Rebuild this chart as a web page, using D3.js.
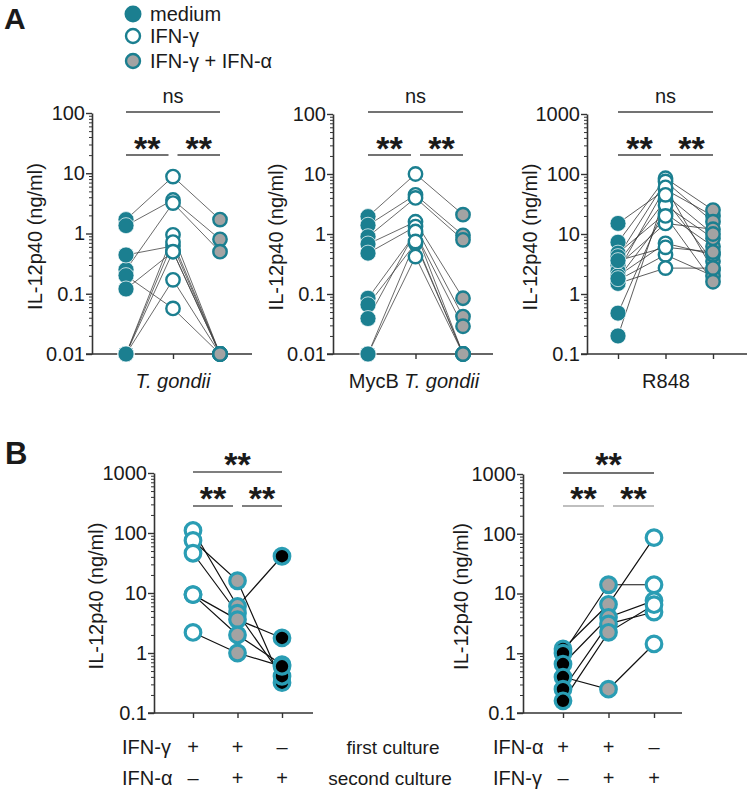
<!DOCTYPE html>
<html><head><meta charset="utf-8">
<script src="https://cdn.jsdelivr.net/npm/d3@7"></script>
<style>
body{margin:0;background:#fff;}
text{font-family:"Liberation Sans",Arial,sans-serif;fill:#1a1a1a;}
</style></head>
<body><svg id="c" width="750" height="794"></svg>
<script>
// ---------- DATA ----------
const groupsA = ["medium", "IFN-γ", "IFN-γ + IFN-α"];
const groupsBLeft = ["IFN-γ→–", "IFN-γ→IFN-α", "–→IFN-α"];
const groupsBRight = ["IFN-α→–", "IFN-α→IFN-γ", "–→IFN-γ"];

const yTicksA12 = [0.01, 0.1, 1, 10, 100];
const yLabelsA12 = ["0.01", "0.1", "1", "10", "100"];
const yTicks3 = [0.1, 1, 10, 100, 1000];
const yLabels3 = ["0.1", "1", "10", "100", "1000"];

// T. gondii (per donor)
const tgMedium = [1.7, 1.35, 0.25, 0.44, 0.2, 0.12, 0.01, 0.01, 0.01, 0.01];
const tgIFNg   = [8.8, 3.6, 3.2, 0.62, 0.057, 0.5, 0.95, 0.72, 0.17, 0.5];
const tgIFNga  = [1.7, 0.8, 0.5, 0.01, 0.01, 0.01, 0.01, 0.01, 0.01, 0.01];

// MycB T. gondii
const mycMedium = [1.95, 1.4, 0.9, 0.68, 0.48, 0.085, 0.066, 0.039, 0.01, 0.01];
const mycIFNg   = [10, 4.5, 4.0, 1.6, 1.33, 1.03, 0.7, 1.1, 0.42, 0.75];
const mycIFNga  = [2.1, 0.95, 0.8, 0.085, 0.042, 0.029, 0.01, 0.01, 0.01, 0.01];

// R848
const rMedium = [15, 7.3, 4.8, 4.2, 3.3, 3.0, 2.4, 2.0, 1.7, 1.5, 0.48, 0.2, 3.6, 1.8];
const rIFNg   = [55, 85, 22, 75, 37, 15, 60, 7, 4.5, 2.7, 30, 45, 6, 20];
const rIFNga  = [20, 25, 6.2, 16, 3.5, 12, 2.5, 4.5, 2.0, 2.7, 8.5, 10, 5, 1.6];

// Panel B left: first culture IFN-γ / second IFN-α
const bLeftG  = [110, 75, 46, 9.4, 9.4, 2.2];
const bLeftGA = [6, 16, 4.6, 3.6, 2.0, 1.0];
const bLeftA  = [41, 0.32, 0.41, 1.78, 0.64, 0.6];

// Panel B right: first culture IFN-α / second IFN-γ
const bRightA  = [1.18, 1.0, 0.66, 0.4, 0.25, 0.16];
const bRightAG = [6.6, 14, 4, 0.25, 3.1, 2.24];
const bRightG  = [86, 14, 7.6, 1.43, 4.9, 6.5];

const rowLeft1 = ["+", "+", "–"];
const rowLeft2 = ["–", "+", "+"];
const rowRight1 = ["+", "+", "–"];
const rowRight2 = ["–", "+", "+"];

// ---------- STYLE ----------
const tealA = "#1b7f90";
const tealB = "#2a9db4";
const grey = "#a3a3a3";
const FS = 20;

const svg = d3.select("#c");

function minorTicks(majors) {
  const out = [];
  for (let i = 0; i < majors.length - 1; i++)
    for (let k = 2; k <= 9; k++) out.push(+(majors[i] * k).toPrecision(3));
  return out;
}

function panel(o) {
  const g = svg.append("g");
  const y = d3.scaleLog().domain([o.ticks[0], o.ticks[o.ticks.length - 1]]).range([o.yBottom, o.yTop]);
  const x = d3.scalePoint().domain(o.groups).range([o.x0, o.x2]);

  g.append("g").attr("transform", `translate(${o.axisX},0)`)
    .call(d3.axisLeft(y).tickValues(minorTicks(o.ticks)).tickSize(3).tickFormat(""))
    .call(s => { s.select(".domain").remove(); s.selectAll("line").attr("stroke", "#333").attr("stroke-width", 1); });
  g.append("g").attr("transform", `translate(${o.axisX},0)`)
    .call(d3.axisLeft(y).tickValues(o.ticks).tickSize(6).tickSizeOuter(0).tickPadding(1)
      .tickFormat((d, i) => o.labels[i]))
    .call(s => {
      s.select(".domain").attr("stroke", "#333").attr("stroke-width", 1.6);
      s.selectAll("line").attr("stroke", "#333").attr("stroke-width", 1.4);
      s.selectAll("text").style("font-size", FS + "px").attr("fill", "#1a1a1a")
        .style("font-family", '"Liberation Sans",Arial,sans-serif');
    });
  g.append("g").attr("transform", `translate(0,${o.yBottom})`)
    .call(d3.axisBottom(x).tickSize(5).tickSizeOuter(0).tickFormat(""))
    .call(s => {
      s.select(".domain").attr("d", `M${o.axisX - 6},0H${o.xEnd}`).attr("stroke", "#333").attr("stroke-width", 1.6);
      s.selectAll("line").attr("stroke", "#333").attr("stroke-width", 1.4);
    });

  g.append("text").attr("transform", `translate(${o.axisX - o.labOff},${(o.yBottom + o.yTop) / 2 + 3}) rotate(-90)`)
    .attr("text-anchor", "middle").style("font-size", FS + "px").text("IL-12p40 (ng/ml)");

  const line = d3.line().x(d => x(d[0])).y(d => y(d[1]));
  const n = o.series[0].length;
  for (let i = 0; i < n; i++) {
    const pts = o.groups.map((gr, j) => [gr, o.series[j][i]]);
    g.append("path").attr("d", line(pts)).attr("fill", "none")
      .attr("stroke", o.lineColor).attr("stroke-width", o.lineWidth);
  }
  o.groups.forEach((gr, j) => {
    const st = o.styles[j];
    g.append("g").selectAll("circle").data(o.series[j]).join("circle")
      .attr("cx", x(gr)).attr("cy", d => y(d)).attr("r", st.r)
      .attr("fill", st.fill).attr("stroke", st.stroke).attr("stroke-width", st.sw);
  });

  const mid = x(o.groups[1]);
  const p0 = x(o.groups[0]), p2 = x(o.groups[2]);
  const sig = o.sig;
  g.append("line").attr("x1", p0).attr("x2", p2).attr("y1", sig.topY).attr("y2", sig.topY)
    .attr("stroke", sig.topColor).attr("stroke-width", 1.4);
  g.append("line").attr("x1", p0).attr("x2", mid - 4.5).attr("y1", sig.lowY).attr("y2", sig.lowY)
    .attr("stroke", sig.lowColor).attr("stroke-width", 1.4);
  g.append("line").attr("x1", mid + 4.5).attr("x2", p2).attr("y1", sig.lowY).attr("y2", sig.lowY)
    .attr("stroke", sig.lowColor).attr("stroke-width", 1.4);
  const star = (cx, cy, t) => {
    if (t === "ns") {
      g.append("text").attr("x", cx).attr("y", cy + 6).attr("text-anchor", "middle")
        .style("font-size", FS + "px").text("ns");
    } else {
      g.append("text").attr("x", cx).attr("y", cy + 20).attr("text-anchor", "middle")
        .style("font-size", "34px").style("font-weight", "bold").text("**");
    }
  };
  star((p0 + p2) / 2, sig.topTextY, sig.topText);
  star((p0 + mid - 4.5) / 2, sig.lowTextY, "**");
  star((mid + 4.5 + p2) / 2, sig.lowTextY, "**");
  return { x, y, g };
}

// ---------- PANEL A ----------
const stA = [
  { fill: tealA, stroke: "#ffffff", sw: 0.7, r: 8 },
  { fill: "#ffffff", stroke: tealA, sw: 2.4, r: 6.7 },
  { fill: grey, stroke: tealA, sw: 2.4, r: 6.7 }
];
const sigA = { topY: 112, lowY: 155, topTextY: 97, lowTextY: 140, topText: "ns", topColor: "#444", lowColor: "#444" };

const a1 = panel({ groups: groupsA, ticks: yTicksA12, labels: yLabelsA12, yTop: 113, yBottom: 354,
  axisX: 92, xEnd: 252, x0: 126, x2: 220, labOff: 50,
  series: [tgMedium, tgIFNg, tgIFNga], styles: stA, lineColor: "#444", lineWidth: 0.8, sig: sigA });
const a2 = panel({ groups: groupsA, ticks: yTicksA12, labels: yLabelsA12, yTop: 114, yBottom: 354,
  axisX: 333, xEnd: 493, x0: 368, x2: 463, labOff: 50,
  series: [mycMedium, mycIFNg, mycIFNga], styles: stA, lineColor: "#444", lineWidth: 0.8, sig: sigA });
const a3 = panel({ groups: groupsA, ticks: yTicks3, labels: yLabels3, yTop: 114, yBottom: 354,
  axisX: 587, xEnd: 747, x0: 618, x2: 713, labOff: 50,
  series: [rMedium, rIFNg, rIFNga], styles: stA, lineColor: "#333", lineWidth: 0.8, sig: sigA });

svg.append("text").attr("x", 173).attr("y", 388).attr("text-anchor", "middle")
  .style("font-size", FS + "px").style("font-style", "italic").text("T. gondii");
const t2 = svg.append("text").attr("x", 414).attr("y", 388).attr("text-anchor", "middle").style("font-size", FS + "px");
t2.append("tspan").text("MycB ");
t2.append("tspan").style("font-style", "italic").text("T. gondii");
svg.append("text").attr("x", 666).attr("y", 388).attr("text-anchor", "middle")
  .style("font-size", FS + "px").text("R848");

const legY = [14, 36, 61];
groupsA.forEach((name, i) => {
  const st = stA[i];
  svg.append("circle").attr("cx", 133).attr("cy", legY[i]).attr("r", i === 0 ? 8.5 : 7)
    .attr("fill", st.fill).attr("stroke", i === 0 ? "none" : tealA).attr("stroke-width", 2.4);
  svg.append("text").attr("x", 150).attr("y", legY[i] + 7).style("font-size", FS + "px").text(name);
});

svg.append("text").attr("x", 4).attr("y", 29).style("font-size", "30px").style("font-weight", "bold").text("A");
svg.append("text").attr("x", 5).attr("y", 464).style("font-size", "31px").style("font-weight", "bold").text("B");

// ---------- PANEL B ----------
const stBL = [
  { fill: "#ffffff", stroke: tealB, sw: 3.2, r: 7.8 },
  { fill: grey, stroke: tealB, sw: 3.2, r: 7.8 },
  { fill: "#000000", stroke: tealB, sw: 3.2, r: 7.8 }
];
const stBR = [stBL[2], stBL[1], stBL[0]];

const b1 = panel({ groups: groupsBLeft, ticks: yTicks3, labels: yLabels3, yTop: 473, yBottom: 713,
  axisX: 154, xEnd: 313, x0: 193, x2: 282, labOff: 51,
  series: [bLeftG, bLeftGA, bLeftA], styles: stBL, lineColor: "#111", lineWidth: 1.2,
  sig: { topY: 472, lowY: 506, topTextY: 456, lowTextY: 490, topText: "**", topColor: "#555", lowColor: "#555" } });
const b2 = panel({ groups: groupsBRight, ticks: yTicks3, labels: yLabels3, yTop: 474, yBottom: 713,
  axisX: 523, xEnd: 682, x0: 563, x2: 654, labOff: 55,
  series: [bRightA, bRightAG, bRightG], styles: stBR, lineColor: "#111", lineWidth: 1.2,
  sig: { topY: 473, lowY: 506, topTextY: 456, lowTextY: 490, topText: "**", topColor: "#444", lowColor: "#aaa" } });

function rows(xs, lab1, lab2, r1, r2, lx) {
  svg.append("text").attr("x", lx).attr("y", 754).style("font-size", FS + "px").text(lab1);
  svg.append("text").attr("x", lx).attr("y", 785).style("font-size", FS + "px").text(lab2);
  xs.domain().forEach((d, i) => {
    svg.append("text").attr("x", xs(d)).attr("y", 754).attr("text-anchor", "middle")
      .style("font-size", FS + "px").text(r1[i]);
    svg.append("text").attr("x", xs(d)).attr("y", 785).attr("text-anchor", "middle")
      .style("font-size", FS + "px").text(r2[i]);
  });
}
rows(b1.x, "IFN-γ", "IFN-α", rowLeft1, rowLeft2, 122);
rows(b2.x, "IFN-α", "IFN-γ", rowRight1, rowRight2, 493);
svg.append("text").attr("x", 393).attr("y", 754).attr("text-anchor", "middle").style("font-size", "19px").text("first culture");
svg.append("text").attr("x", 390).attr("y", 785).attr("text-anchor", "middle").style("font-size", "19px").text("second culture");
</script></body></html>
